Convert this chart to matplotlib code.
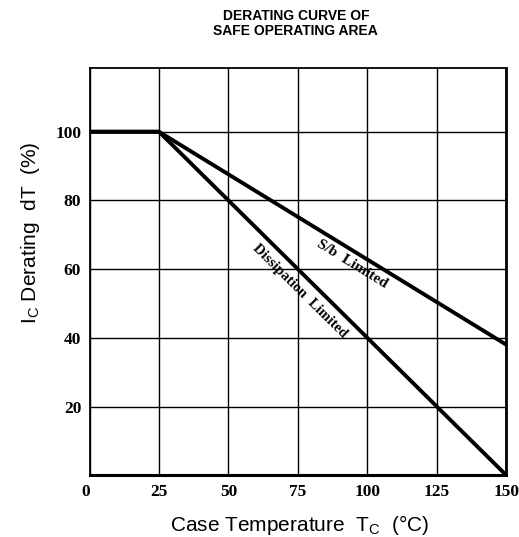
import numpy as np
import matplotlib.pyplot as plt

# derating curves
temp_c = [0, 25, 150]
sb_limited = [100, 100, 38]
dissipation_limited = [100, 100, 0]

x_ticks = [0, 25, 50, 75, 100, 125, 150]
y_ticks = [0, 20, 40, 60, 80, 100]

serif = ['Liberation Serif', 'DejaVu Serif']
sans = ['Liberation Sans', 'DejaVu Sans']

fig = plt.figure(figsize=(5.19, 5.37), dpi=100)
ax = fig.add_axes([0.1725, 0.115, 0.803, 0.758])

ax.plot(temp_c, sb_limited, color='black', lw=2.8, solid_capstyle='butt', zorder=3)
ax.plot(temp_c, dissipation_limited, color='black', lw=2.8, solid_capstyle='butt', zorder=3)

ax.set_xlim(0, 150)
ax.set_ylim(0, 118.5)
ax.set_xticks(x_ticks)
ax.set_yticks(y_ticks)
ax.set_xticklabels([str(t) for t in x_ticks], fontfamily=serif, fontweight='bold', fontsize=12.5)
ax.set_yticklabels([''] + [str(t) for t in y_ticks[1:]], fontfamily=serif, fontweight='bold', fontsize=12.5)
ax.get_xticklabels()[0].set_ha('right')
ax.tick_params(axis='both', length=0, pad=6)

ax.grid(True, color='black', lw=1.0)
ax.set_axisbelow(True)
for side, w in [('left', 1.3), ('right', 2.0), ('top', 1.3), ('bottom', 2.2)]:
    ax.spines[side].set_linewidth(w)

# labels along the lines
ang_sb = np.degrees(np.arctan2(sb_limited[2] - sb_limited[1], temp_c[2] - temp_c[1]))
ang_d = np.degrees(np.arctan2(dissipation_limited[2] - dissipation_limited[1], temp_c[2] - temp_c[1]))
ax.text(94.4, 61.5, 'S/b  Limited', rotation=ang_sb, transform_rotates_text=True,
        ha='center', va='center', rotation_mode='anchor',
        fontfamily=serif, fontweight='bold', fontsize=11)
ax.text(75.7, 53.6, 'Dissipation  Limited', rotation=ang_d, transform_rotates_text=True,
        ha='center', va='center', rotation_mode='anchor',
        fontfamily=serif, fontweight='bold', fontsize=10.5)

fig.text(0.57, 0.97, 'DERATING CURVE OF', ha='center', va='center',
         fontfamily=['Liberation Sans Narrow', 'Liberation Sans'], fontweight='bold', fontsize=10)
fig.text(0.57, 0.942, 'SAFE OPERATING AREA', ha='center', va='center',
         fontfamily=['Liberation Sans Narrow', 'Liberation Sans'], fontweight='bold', fontsize=10)

fig.text(0.058, 0.566, r'I$_\mathregular{C}$ Derating  dT  (%)', rotation=90,
         ha='center', va='center', fontfamily=sans, fontsize=15)
fig.text(0.578, 0.022, r'Case Temperature  T$_\mathregular{C}$  (°C)',
         ha='center', va='center', fontfamily=sans, fontsize=15)

fig.savefig('out.png', dpi=100)
